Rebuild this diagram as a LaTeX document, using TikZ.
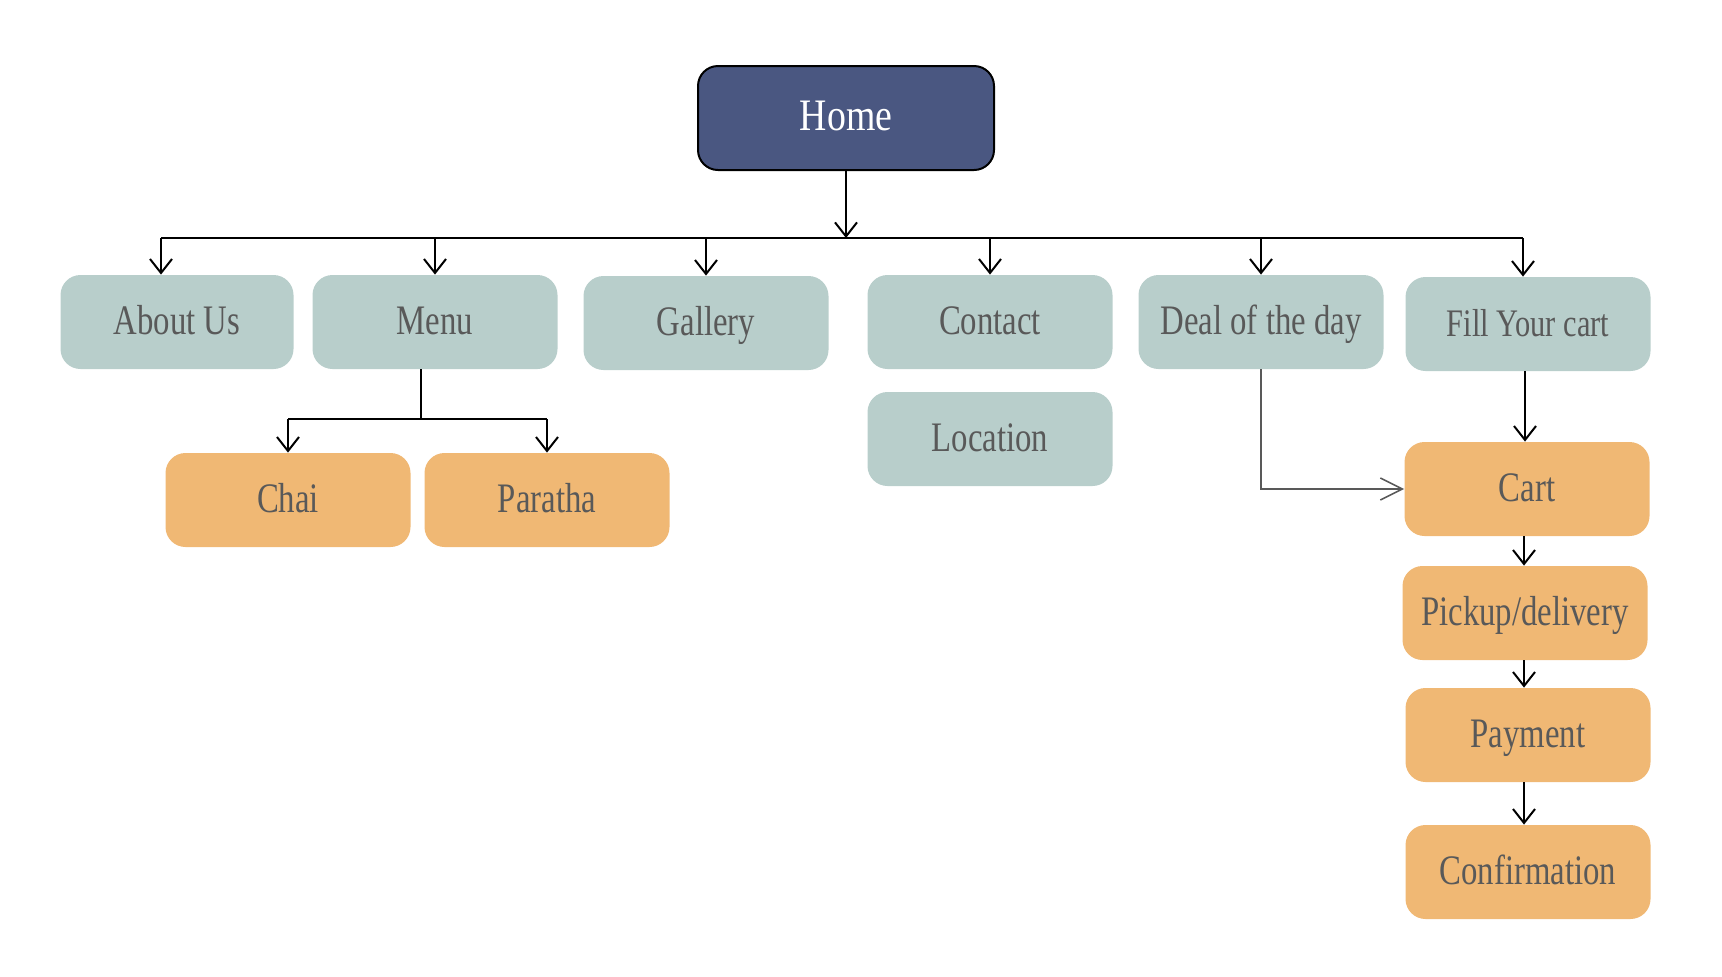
\documentclass[tikz,border=0pt]{standalone}
\usepackage{fontspec}
\setmainfont{Liberation Serif}[FakeStretch=0.78]
\newfontfamily\homefont{Liberation Serif}[FakeStretch=0.84]
\usetikzlibrary{arrows.meta}

\definecolor{homeblue}{HTML}{4A5781}
\definecolor{sage}{HTML}{B8CECB}
\definecolor{apricot}{HTML}{F0B874}
\definecolor{inkgray}{HTML}{595959}

\begin{document}
\begin{tikzpicture}[x = 0.5pt, y = -0.5pt,
  homebox/.style = {draw=black, line width=1pt, fill=homeblue, rounded corners=10pt,
    minimum width=148pt, minimum height=52pt, inner sep=0pt, text=white,
    text height=16pt, text depth=4pt,
    font=\homefont\fontsize{22.5}{27}\selectfont},
  pagebox/.style = {fill=sage, rounded corners=10pt, minimum width=122.5pt,
    minimum height=47pt, inner sep=0pt, text=inkgray, text height=16pt, text depth=4pt,
    font=\fontsize{21}{25}\selectfont},
  itembox/.style = {pagebox, fill=apricot},
  link/.style = {line width=1pt, -{Straight Barb[length=7pt,width=11pt]}},
  jump/.style = {draw=inkgray, line width=0.8pt, -{Straight Barb[length=11pt,width=11pt]}}]

  \useasboundingbox (0,0) rectangle (1722,976);

  \node[homebox] (home) at (846, 118) {Home};

  % top level pages
  \node[pagebox, minimum width=116.5pt] (about) at (177, 322) {About Us};
  \node[pagebox] (menu) at (435, 322) {Menu};
  \node[pagebox] (gallery) at (706, 323) {Gallery};
  \node[pagebox] (contact) at (990, 322) {Contact};
  \node[pagebox] (deal) at (1261, 322) {Deal of the day};
  \node[pagebox, font=\fontsize{19.5}{24}\selectfont] (fill) at (1528, 324) {Fill Your cart};

  \node[pagebox] (location) at (990, 439) {Location};

  \node[itembox] (chai) at (288, 500) {Chai};
  \node[itembox] (paratha) at (547, 500) {Paratha};

  % order steps
  \node[itembox] (cart) at (1527, 489) {Cart};
  \node[itembox] (pickup) at (1525, 613) {Pickup/delivery};
  \node[itembox] (payment) at (1528, 735) {Payment};
  \node[itembox] (confirm) at (1528, 872) {Confirmation};

  \coordinate (bus) at (846, 238);
  \draw[link] (home.south) -- (bus);
  \draw[line width=1pt] ([xshift=-8pt]bus -| about.north) -- ([xshift=-2.5pt]bus -| fill.north);
  \draw[link] ([xshift=-8pt]bus -| about.north) -- ([xshift=-8pt]about.north);
  \foreach \page in {menu, gallery, contact, deal} {
    \draw[link] (bus -| \page.north) -- (\page.north);
  }
  \draw[link] ([xshift=-2.5pt]bus -| fill.north) -- ([xshift=-2.5pt]fill.north);

  \draw[line width=1pt] ([xshift=-7pt]menu.south) -- ++(0,50) coordinate (fork);
  \draw[line width=1pt] (fork -| chai.north) -- (fork -| paratha.north);
  \draw[link] (fork -| chai.north) -- (chai.north);
  \draw[link] (fork -| paratha.north) -- (paratha.north);

  \draw[link] ([xshift=-1.5pt]fill.south) -- ([xshift=-1pt]cart.north);
  \draw[link] ([xshift=-1.5pt]cart.south) -- ([xshift=-0.5pt]pickup.north);
  \draw[link] ([xshift=-0.5pt]pickup.south) -- ([xshift=-2pt]payment.north);
  \draw[link] ([xshift=-2pt]payment.south) -- ([xshift=-2pt]confirm.north);

  \draw[jump] (deal.south) |- (cart.west);

\end{tikzpicture}
\end{document}
